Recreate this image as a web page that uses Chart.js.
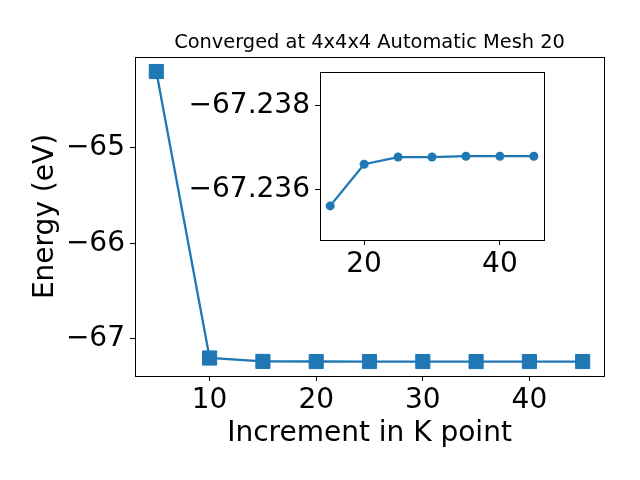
<!DOCTYPE html>
<html>
<head>
<meta charset="utf-8">
<script src="https://cdn.jsdelivr.net/npm/chart.js@4.4.1/dist/chart.umd.min.js"></script>
<style>
  html, body { margin: 0; padding: 0; background: #fff; }
  #wrap { position: relative; width: 640px; height: 480px; }
  #wrap canvas { position: absolute; left: 0; top: 0; }
</style>
</head>
<body>
<div id="wrap">
  <canvas id="main" width="640" height="480"></canvas>
  <canvas id="inset" width="640" height="480"></canvas>
</div>
<script>
// k-point increments and total energies (eV)
var kPoints = [5, 10, 15, 20, 25, 30, 35, 40, 45];
var energies = [-64.205, -67.200, -67.23562, -67.23661, -67.23678, -67.23678, -67.23680, -67.23680, -67.23680];
var insetFrom = 2; // inset shows k = 15..45

var mainXTicks = [10, 20, 30, 40];
var mainYTicks = [-67, -66, -65];
var insetXTicks = [20, 40];
var insetYTicks = [-67.238, -67.236];

var titleText = 'Converged at 4x4x4 Automatic Mesh 20';
var xLabel = 'Increment in K point';
var yLabel = 'Energy (eV)';

var blue = '#1f77b4';
var fontFamily = '"DejaVu Sans", sans-serif';

function points(from) {
    return kPoints.slice(from).map(function (k, i) {
        return { x: k, y: energies[from + i] };
    });
}

function fixedTicks(list) {
    return function (scale) {
        scale.ticks = list.map(function (v) { return { value: v }; });
    };
}

function minus(s) {
    return String(s).replace('-', '\u2212');
}

var frame = {
    id: 'frame',
    beforeDraw: function (chart, args, opts) {
        if (!opts.fill) return;
        var a = chart.chartArea, ctx = chart.ctx;
        ctx.save();
        ctx.fillStyle = '#fff';
        ctx.fillRect(a.left, a.top, a.right - a.left, a.bottom - a.top);
        ctx.restore();
    },
    afterDraw: function (chart) {
        var a = chart.chartArea, ctx = chart.ctx;
        ctx.save();
        ctx.strokeStyle = '#000';
        ctx.lineWidth = 1;
        ctx.strokeRect(Math.round(a.left) + 0.5, Math.round(a.top) + 0.5,
            Math.round(a.right - a.left), Math.round(a.bottom - a.top));
        ctx.restore();
    }
};

function axisGrid() {
    return { display: true, drawOnChartArea: false, drawTicks: true, tickLength: 5, color: '#000', lineWidth: 1 };
}

var tickFont = { family: fontFamily, size: 28 };

new Chart(document.getElementById('main'), {
    type: 'line',
    data: {
        datasets: [{
            data: points(0),
            borderColor: blue,
            backgroundColor: blue,
            borderWidth: 2.3,
            tension: 0,
            pointStyle: 'rect',
            pointRadius: 10,
            pointBorderWidth: 1,
            pointBorderColor: blue,
            pointBackgroundColor: blue
        }]
    },
    options: {
        responsive: false,
        animation: false,
        devicePixelRatio: 1,
        layout: { padding: { left: 0, right: 36, top: 0, bottom: 0 } },
        plugins: {
            legend: { display: false },
            tooltip: { enabled: false },
            frame: { fill: false },
            title: {
                display: true,
                text: titleText,
                fullSize: false,
                color: '#000',
                font: { family: fontFamily, size: 19.4, weight: 'normal' },
                padding: { top: 31, bottom: 2.7 }
            }
        },
        scales: {
            x: {
                type: 'linear',
                min: 3,
                max: 47,
                afterBuildTicks: fixedTicks(mainXTicks),
                afterFit: function (scale) { scale.height = 104; },
                grid: axisGrid(),
                border: { display: false },
                ticks: { color: '#000', font: tickFont, padding: 3, maxRotation: 0 },
                title: { display: true, text: xLabel, color: '#000', font: tickFont, padding: { top: 0, bottom: 29.5 } }
            },
            y: {
                type: 'linear',
                min: -67.388,
                max: -64.053,
                afterBuildTicks: fixedTicks(mainYTicks),
                afterFit: function (scale) { scale.width = 135; },
                grid: axisGrid(),
                border: { display: false },
                ticks: { color: '#000', font: tickFont, padding: 5, callback: function (v) { return minus(v); } },
                title: { display: true, text: yLabel, color: '#000', font: tickFont, padding: { top: 29, bottom: 0 } }
            }
        }
    },
    plugins: [frame]
});

new Chart(document.getElementById('inset'), {
    type: 'line',
    data: {
        datasets: [{
            data: points(insetFrom),
            borderColor: blue,
            backgroundColor: blue,
            borderWidth: 2.3,
            tension: 0,
            pointStyle: 'circle',
            pointRadius: 4.5,
            pointBorderWidth: 0,
            pointBackgroundColor: blue
        }]
    },
    options: {
        responsive: false,
        animation: false,
        devicePixelRatio: 1,
        layout: { padding: { left: 0, right: 96, top: 72, bottom: 0 } },
        plugins: {
            legend: { display: false },
            tooltip: { enabled: false },
            frame: { fill: true }
        },
        scales: {
            x: {
                type: 'linear',
                min: 13.5,
                max: 46.5,
                afterBuildTicks: fixedTicks(insetXTicks),
                afterFit: function (scale) { scale.height = 240; },
                grid: axisGrid(),
                border: { display: false },
                ticks: { color: '#000', font: tickFont, padding: 3, maxRotation: 0 }
            },
            y: {
                type: 'linear',
                reverse: true,
                min: -67.2388,
                max: -67.23481,
                afterBuildTicks: fixedTicks(insetYTicks),
                afterFit: function (scale) { scale.width = 320; },
                grid: axisGrid(),
                border: { display: false },
                ticks: { color: '#000', font: tickFont, padding: 5, callback: function (v) { return minus(v.toFixed(3)); } }
            }
        }
    },
    plugins: [frame]
});
</script>
</body>
</html>
